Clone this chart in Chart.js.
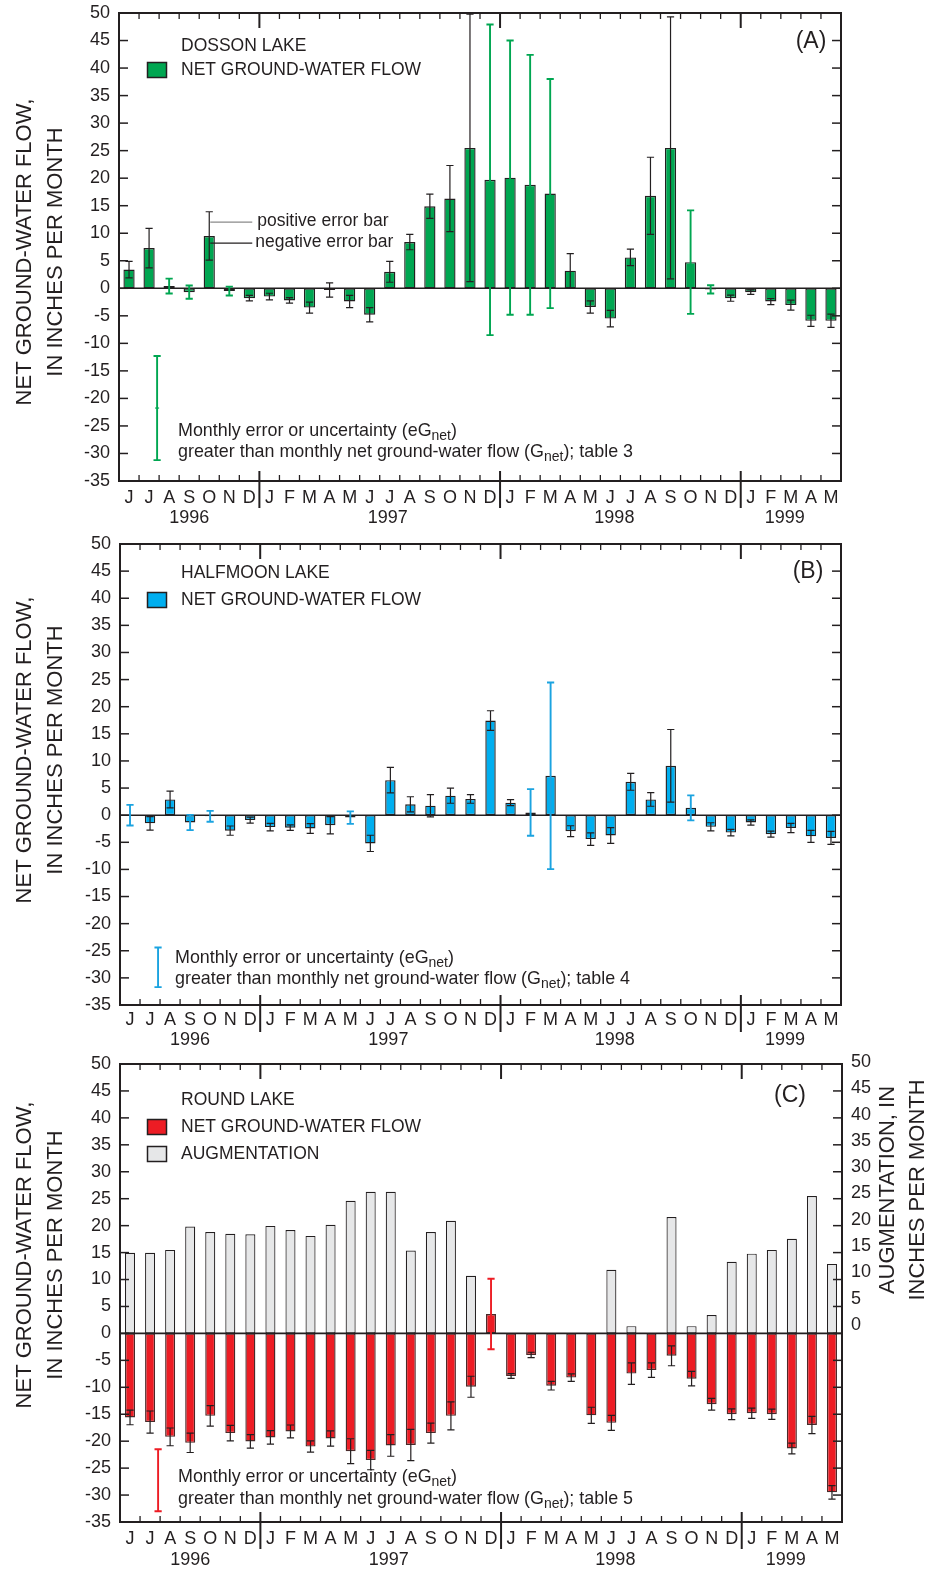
<!DOCTYPE html>
<html>
<head>
<meta charset="utf-8">
<title>Net ground-water flow — Dosson, Halfmoon and Round Lakes</title>
<script src="https://cdn.jsdelivr.net/npm/chart.js@4/dist/chart.umd.min.js"></script>
<style>
  html, body { margin: 0; padding: 0; background: #ffffff; }
  body { width: 933px; height: 1570px; position: relative; overflow: hidden; }
  .panel { position: absolute; left: 0; width: 933px; }
  canvas { display: block; }
</style>
</head>
<body>
<div class="panel" style="top:0px;height:530px"><canvas id="panelA" width="933" height="530"></canvas></div>
<div class="panel" style="top:530px;height:520px"><canvas id="panelB" width="933" height="520"></canvas></div>
<div class="panel" style="top:1050px;height:520px"><canvas id="panelC" width="933" height="520"></canvas></div>
<script>
// ---- Month axis: June 1996 through May 1999 ----
const months = ['J','J','A','S','O','N','D',
                'J','F','M','A','M','J','J','A','S','O','N','D',
                'J','F','M','A','M','J','J','A','S','O','N','D',
                'J','F','M','A','M'];
const yearLabels  = ['1996', '1997', '1998', '1999'];
const yearBreaks  = [7, 19, 31];            // first month index of 1997, 1998, 1999
const yearCenters = [3, 12.9, 24.2, 32.7];  // category position of each year label
const flowTicks   = [50, 45, 40, 35, 30, 25, 20, 15, 10, 5, 0, -5, -10, -15, -20, -25, -30, -35];
const augTicks    = [50, 45, 40, 35, 30, 25, 20, 15, 10, 5, 0];

// ---- (A) Dosson Lake: net ground-water flow and its error, inches per month ----
const dossonFlow = [3.4, 7.3, 0.4, -0.7, 9.5, -0.5, -1.8,
                    -1.5, -2.2, -3.5, -0.3, -2.4, -4.8, 3.0, 8.4, 14.9, 16.3, 25.5, 19.7,
                    20.1, 18.8, 17.2, 3.2, -3.4, -5.5, 5.6, 16.8, 25.5, 4.75, -0.2, -1.8,
                    -0.7, -2.4, -3.05, -5.9, -5.9];
const dossonErr  = [1.5, 3.6, 1.35, 1.2, 4.4, 0.8, 0.5,
                    0.6, 0.5, 1.0, 1.3, 1.1, 1.3, 1.9, 1.4, 2.2, 6.0, 24.3, 28.2,
                    24.9, 23.6, 20.8, 3.1, 1.1, 1.5, 1.5, 7.0, 23.8, 9.4, 0.75, 0.55,
                    0.4, 0.55, 0.9, 1.0, 1.2];
const dossonErrExceeds = [2, 3, 5, 18, 19, 20, 21, 28, 29];   // months where eGnet > Gnet (table 3)
const dossonKey = [-21.75, 9.45];                             // key error bar: centre, half-length

// ---- (B) Halfmoon Lake ----
const halfmoonFlow = [0, -1.5, 2.9, -1.35, -0.2, -2.85, -0.9,
                      -2.2, -2.3, -2.45, -1.85, -0.45, -5.2, 6.45, 2.0, 1.75, 3.6, 3.0, 17.45,
                      2.3, 0.5, 7.25, -2.95, -4.4, -3.75, 6.15, 2.9, 9.1, 1.35, -2.15, -3.2,
                      -1.35, -3.5, -2.35, -3.9, -4.2];
const halfmoonErr  = [1.9, 1.25, 1.55, 1.4, 1.0, 0.85, 0.55,
                      0.7, 0.5, 0.9, 1.6, 1.15, 1.5, 2.35, 1.4, 2.05, 1.4, 0.8, 1.8,
                      0.55, 4.3, 17.2, 1.0, 1.15, 1.45, 1.55, 1.25, 6.7, 2.3, 0.75, 0.6,
                      0.5, 0.55, 0.85, 1.1, 1.2];
const halfmoonErrExceeds = [0, 3, 4, 11, 20, 21, 28];        // table 4
const halfmoonKey = [-28.05, 3.65];

// ---- (C) Round Lake: net ground-water flow, its error, and augmentation ----
const roundFlow = [-15.6, -16.45, -19.2, -20.3, -15.3, -18.5, -20.05,
                   -19.3, -18.2, -21.0, -19.5, -21.85, -23.5, -20.8, -20.7, -18.5, -15.3, -9.9, 3.6,
                   -7.9, -4.0, -9.7, -8.2, -15.2, -16.6, -7.45, -6.8, -4.15, -8.4, -13.15, -15.0,
                   -14.8, -15.0, -21.35, -17.0, -29.5];
const roundErr  = [1.35, 2.05, 1.65, 1.8, 1.9, 1.45, 1.25,
                   1.25, 1.2, 1.05, 1.4, 2.3, 1.8, 2.0, 2.9, 1.85, 2.6, 1.95, 6.55,
                   0.45, 0.5, 0.8, 0.7, 1.5, 1.4, 2.0, 1.35, 1.85, 1.35, 1.1, 1.0,
                   0.95, 0.95, 1.0, 1.6, 1.25];
const roundAug  = [14.95, 14.95, 15.5, 19.85, 18.8, 18.5, 18.4,
                   19.95, 19.2, 18.1, 20.15, 24.6, 26.3, 26.3, 15.4, 18.8, 20.9, 10.7, null,
                   null, null, null, null, null, 11.8, 1.35, null, 21.6, 1.35, 3.4, 13.3,
                   14.8, 15.5, 17.55, 25.5, 12.9];
const roundErrExceeds = [18];                                 // table 5
const roundKey = [-27.25, 5.75];

// ---- drawing ----
const INK = '#231F20';
const FAM = '"Liberation Sans", Arial, Helvetica, sans-serif';

function line(ctx, x1, y1, x2, y2) {
  ctx.beginPath(); ctx.moveTo(x1, y1); ctx.lineTo(x2, y2); ctx.stroke();
}

function errorBar(ctx, px, yHi, yLo, area, color, width) {
  const cap = 3.6;
  const t = Math.max(yHi, area.top), b = Math.min(yLo, area.bottom);
  ctx.strokeStyle = color; ctx.lineWidth = width;
  ctx.beginPath();
  ctx.moveTo(px, t); ctx.lineTo(px, b);
  if (yHi >= area.top) { ctx.moveTo(px - cap, yHi); ctx.lineTo(px + cap, yHi); }
  if (yLo <= area.bottom) { ctx.moveTo(px - cap, yLo); ctx.lineTo(px + cap, yLo); }
  ctx.stroke();
}

function textRuns(ctx, x, y, runs, size) {
  let cx = x;
  ctx.textAlign = 'left'; ctx.textBaseline = 'middle';
  runs.forEach(([t, sub]) => {
    ctx.font = (sub ? Math.round(size * 0.8) : size) + 'px ' + FAM;
    ctx.fillText(t, cx, sub ? y + 5 : y);
    cx += ctx.measureText(t).width;
  });
}

function vText(ctx, text, cx, cy, size) {
  ctx.save();
  ctx.translate(cx, cy); ctx.rotate(-Math.PI / 2);
  ctx.font = size + 'px ' + FAM; ctx.textAlign = 'center'; ctx.textBaseline = 'middle';
  ctx.fillText(text, 0, 0);
  ctx.restore();
}

function decorations(p) {
  return {
    id: 'decor_' + p.id,
    afterDatasetsDraw(chart) {
      const { ctx, chartArea: a, scales } = chart;
      const xs = scales.x, ys = scales.y;
      ctx.save();
      ctx.lineCap = 'butt';

      // zero line
      ctx.strokeStyle = INK; ctx.lineWidth = 1.6;
      const y0 = ys.getPixelForValue(0);
      line(ctx, a.left, y0, a.right, y0);

      // monthly error bars
      p.flow.forEach((v, i) => {
        if (v === null) return;
        const e = p.err[i];
        const wide = p.exceeds.includes(i);
        errorBar(ctx, xs.getPixelForValue(i), ys.getPixelForValue(v + e), ys.getPixelForValue(v - e), a,
                 wide ? p.errColor : INK, wide ? 1.9 : 1.2);
      });

      // key error bar beside the note
      const kx = xs.getPixelForValue(1.4);
      errorBar(ctx, kx, ys.getPixelForValue(p.key[0] + p.key[1]), ys.getPixelForValue(p.key[0] - p.key[1]), a, p.errColor, 1.9);
      if (p.keyMid) {
        const km = ys.getPixelForValue(p.key[0]);
        ctx.lineWidth = 1.2; line(ctx, kx - 2, km, kx + 2, km);
      }

      // frame
      ctx.strokeStyle = INK; ctx.lineWidth = 2;
      ctx.strokeRect(a.left, a.top, a.right - a.left, a.bottom - a.top);

      // y ticks (inward, both sides) and left labels
      ctx.lineWidth = 1.5;
      ctx.fillStyle = INK;
      ctx.font = '18px ' + FAM; ctx.textAlign = 'right'; ctx.textBaseline = 'middle';
      flowTicks.forEach(t => {
        const py = ys.getPixelForValue(t);
        if (t !== 50 && t !== -35) {
          line(ctx, a.left, py, a.left + 9, py);
          line(ctx, a.right - 9, py, a.right, py);
        }
        ctx.fillText(String(t), a.left - 9, py);
      });

      // right-hand augmentation labels
      if (scales.y2) {
        ctx.textAlign = 'left';
        augTicks.forEach(t => ctx.fillText(String(t), a.right + 9, scales.y2.getPixelForValue(t)));
      }

      // x ticks at month boundaries
      for (let k = 1; k < months.length; k++) {
        const bx = (xs.getPixelForValue(k - 1) + xs.getPixelForValue(k)) / 2;
        const yr = yearBreaks.includes(k);
        ctx.lineWidth = yr ? 2 : 1.3;
        line(ctx, bx, a.top, bx, a.top + (yr ? 15 : 6));
        if (yr) line(ctx, bx, a.bottom - 10, bx, a.bottom + 27);
        else line(ctx, bx, a.bottom - 6, bx, a.bottom);
      }

      // month and year labels
      ctx.font = '18px ' + FAM; ctx.textAlign = 'center'; ctx.textBaseline = 'middle';
      months.forEach((m, i) => ctx.fillText(m, xs.getPixelForValue(i), a.bottom + p.monthDy));
      yearLabels.forEach((yl, i) => ctx.fillText(yl, xs.getPixelForValue(yearCenters[i]), a.bottom + p.yearDy));

      // axis titles
      vText(ctx, 'NET GROUND-WATER FLOW,', 25, p.titleY, 22);
      vText(ctx, 'IN INCHES PER MONTH', 56, p.titleY, 22);
      if (p.rightTitle) {
        vText(ctx, 'AUGMENTATION, IN', 888, p.rightTitleY, 22);
        vText(ctx, 'INCHES PER MONTH', 918, p.rightTitleY, 22);
      }

      // panel letter
      ctx.font = '23px ' + FAM; ctx.textAlign = 'center'; ctx.textBaseline = 'middle';
      ctx.fillText(p.letter, p.letterPos[0], p.letterPos[1]);

      // legend
      ctx.font = '17.5px ' + FAM; ctx.textAlign = 'left';
      ctx.fillText(p.lake, 181, p.legendY[0]);
      p.legendItems.forEach((it, j) => {
        const ly = p.legendY[j + 1];
        ctx.fillStyle = it.fill; ctx.fillRect(147.5, ly - 7.5, 19, 15);
        ctx.strokeStyle = INK; ctx.lineWidth = 1.5; ctx.strokeRect(147.5, ly - 7.5, 19, 15);
        ctx.fillStyle = INK; ctx.fillText(it.text, 181, ly);
      });

      // note on the key error bar
      textRuns(ctx, p.noteX, p.noteY[0], [['Monthly error or uncertainty (eG'], ['net', true], [')']], 17.9);
      textRuns(ctx, p.noteX, p.noteY[1], [['greater than monthly net ground-water flow (G'], ['net', true], ['); ' + p.table]], 17.9);

      // explanation of the error bar halves (panel A only)
      if (p.explain) {
        const bx = xs.getPixelForValue(p.explain.index);
        const yPos = ys.getPixelForValue(p.explain.pos), yNeg = ys.getPixelForValue(p.explain.neg);
        ctx.lineWidth = 1.3;
        ctx.strokeStyle = '#8a8a8a'; line(ctx, bx + 1, yPos, bx + 43, yPos);
        ctx.strokeStyle = INK; line(ctx, bx + 1, yNeg, bx + 43, yNeg);
        ctx.font = '17.5px ' + FAM; ctx.fillStyle = INK;
        ctx.fillText('positive error bar', bx + 48, yPos - 1);
        ctx.fillText('negative error bar', bx + 46, yNeg - 1);
      }
      ctx.restore();
    }
  };
}

function panel(canvasId, p) {
  const datasets = [];
  if (p.aug) {
    datasets.push({
      data: p.aug, backgroundColor: '#E6E7E8', borderColor: INK, borderWidth: 1.2,
      borderSkipped: false, barPercentage: p.barPct, categoryPercentage: 1, grouped: false
    });
  }
  datasets.push({
    data: p.flow, backgroundColor: p.fill, borderColor: p.edge, borderWidth: 1.4,
    borderSkipped: false, barPercentage: p.barPct, categoryPercentage: 1, grouped: false
  });
  const scales = {
    x: { type: 'category', display: false, offset: true },
    y: { display: false, min: -35, max: 50 }
  };
  if (p.y2) scales.y2 = { display: false, min: p.y2[0], max: p.y2[1] };
  return new Chart(document.getElementById(canvasId), {
    type: 'bar',
    data: { labels: months, datasets },
    options: {
      responsive: false, animation: false, events: [],
      layout: { padding: p.pad },
      plugins: { legend: { display: false }, tooltip: { enabled: false } },
      scales
    },
    plugins: [decorations(p)]
  });
}

panel('panelA', {
  id: 'A', flow: dossonFlow, err: dossonErr, exceeds: dossonErrExceeds, key: dossonKey, keyMid: true,
  fill: '#00A651', edge: INK, errColor: '#00A651', barPct: 0.56,
  pad: { left: 119, right: 92, top: 13, bottom: 49 },
  monthDy: 17, yearDy: 37, titleY: 252,
  letter: '(A)', letterPos: [811, 42],
  lake: 'DOSSON LAKE', legendY: [46, 70],
  legendItems: [{ fill: '#00A651', text: 'NET GROUND-WATER FLOW' }],
  noteX: 178, noteY: [431, 452], table: 'table 3',
  explain: { index: 4, pos: 12, neg: 8.2 }
});

panel('panelB', {
  id: 'B', flow: halfmoonFlow, err: halfmoonErr, exceeds: halfmoonErrExceeds, key: halfmoonKey,
  fill: '#00AEEF', edge: INK, errColor: '#1BA3E0', barPct: 0.52,
  pad: { left: 120, right: 92, top: 14, bottom: 45 },
  monthDy: 15, yearDy: 35, titleY: 220,
  letter: '(B)', letterPos: [808, 42],
  lake: 'HALFMOON LAKE', legendY: [43, 70],
  legendItems: [{ fill: '#00AEEF', text: 'NET GROUND-WATER FLOW' }],
  noteX: 175, noteY: [428, 449], table: 'table 4'
});

panel('panelC', {
  id: 'C', flow: roundFlow, err: roundErr, exceeds: roundErrExceeds, key: roundKey, aug: roundAug,
  fill: '#ED1C24', edge: '#4a2a2a', errColor: '#ED1C24', barPct: 0.5,
  pad: { left: 120, right: 91, top: 14, bottom: 48 },
  y2: [-37.45, 49.62],
  monthDy: 17, yearDy: 38, titleY: 205,
  rightTitle: true, rightTitleY: 140,
  letter: '(C)', letterPos: [790, 46],
  lake: 'ROUND LAKE', legendY: [50, 77, 104],
  legendItems: [{ fill: '#ED1C24', text: 'NET GROUND-WATER FLOW' }, { fill: '#E6E7E8', text: 'AUGMENTATION' }],
  noteX: 178, noteY: [427, 449], table: 'table 5'
});
</script>
</body>
</html>
